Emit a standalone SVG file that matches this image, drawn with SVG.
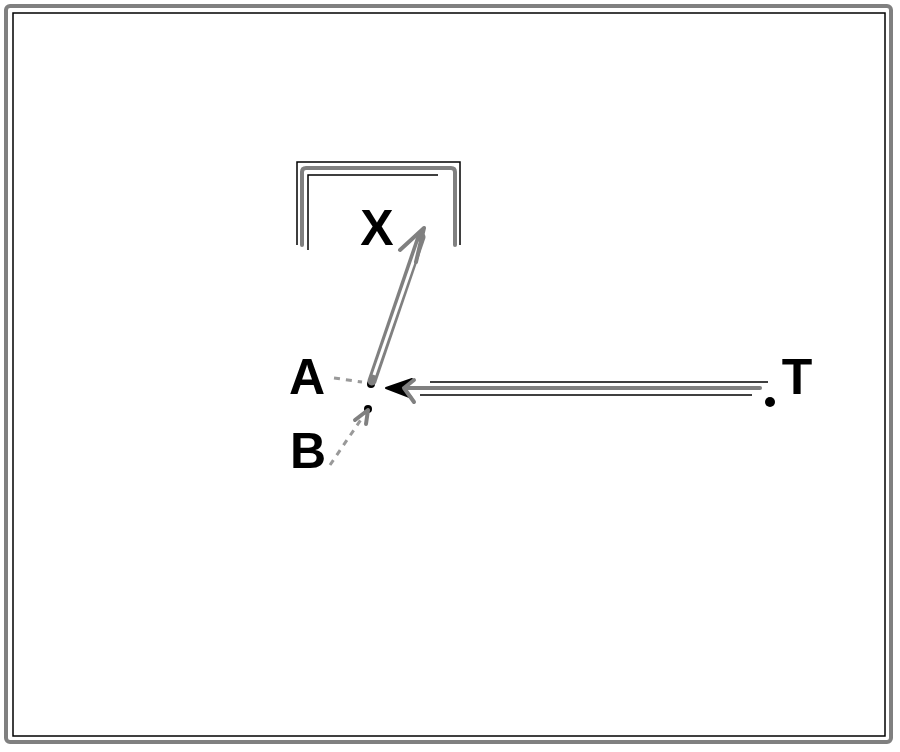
<svg xmlns="http://www.w3.org/2000/svg" width="900" height="752" viewBox="0 0 900 752">
<style>
.g{fill:none;stroke:#808080;stroke-width:4;stroke-linecap:round;stroke-linejoin:round}
.k{fill:none;stroke:#000;stroke-width:1.5}
.dash{fill:none;stroke:#999;stroke-width:3;stroke-dasharray:6 6}
.lbl{font-family:"Liberation Sans",Arial,sans-serif;font-weight:bold;font-size:50px;fill:#000}
.pt{fill:#000}
</style>
<rect width="900" height="752" fill="#fff"/>
<g id="frame">
<rect x="6" y="6" width="885" height="736" rx="4" class="g"/>
<rect x="13" y="13" width="872" height="723" class="k"/>
</g>
<g id="bracket">
<path d="M302,245 V172 Q302,168 306,168 H451 Q455,168 455,172 V245" class="g"/>
<path d="M297,245 V162 H460 V245" class="k" stroke-width="1"/>
<path d="M308,250 V175 H438" class="k" stroke-width="1"/>
</g>
<g id="node-X"><text x="377" y="245" text-anchor="middle" class="lbl">X</text></g>
<g id="node-A">
<text x="307" y="394" text-anchor="middle" class="lbl">A</text>
<circle cx="371" cy="384" r="4" class="pt"/>
</g>
<g id="node-B">
<text x="308" y="468" text-anchor="middle" class="lbl">B</text>
<circle cx="368" cy="409" r="4" class="pt"/>
</g>
<g id="node-T">
<text x="797" y="394" text-anchor="middle" class="lbl">T</text>
<circle cx="770" cy="402" r="5" class="pt"/>
</g>
<g id="connectors">
<line x1="372" y1="381" x2="421" y2="237" stroke="#808080" stroke-width="9" stroke-linecap="round"/>
<line x1="374" y1="375" x2="420" y2="242" stroke="#fff" stroke-width="3"/>
<path d="M424,228 L400,250 M424,228 L416,262" class="g" stroke-width="3"/>
<line x1="395" y1="388" x2="760" y2="388" class="g"/>
<line x1="430" y1="382" x2="768" y2="382" class="k" stroke-width="1"/>
<line x1="420" y1="395" x2="752" y2="395" class="k" stroke-width="1"/>
<path d="M386,388 L412,379 L404,388 L412,398 Z" fill="#000" stroke="#000" stroke-width="2" stroke-linejoin="round"/>
<path d="M404,388 L414,380 M404,388 L414,402" class="g" stroke-width="3"/>
<line x1="334" y1="378" x2="362" y2="382" class="dash"/>
<line x1="330" y1="465" x2="362" y2="418" class="dash"/>
<path d="M368,410 L355,420 M368,410 L366,424" class="g" stroke-width="3"/>
</g>
</svg>
